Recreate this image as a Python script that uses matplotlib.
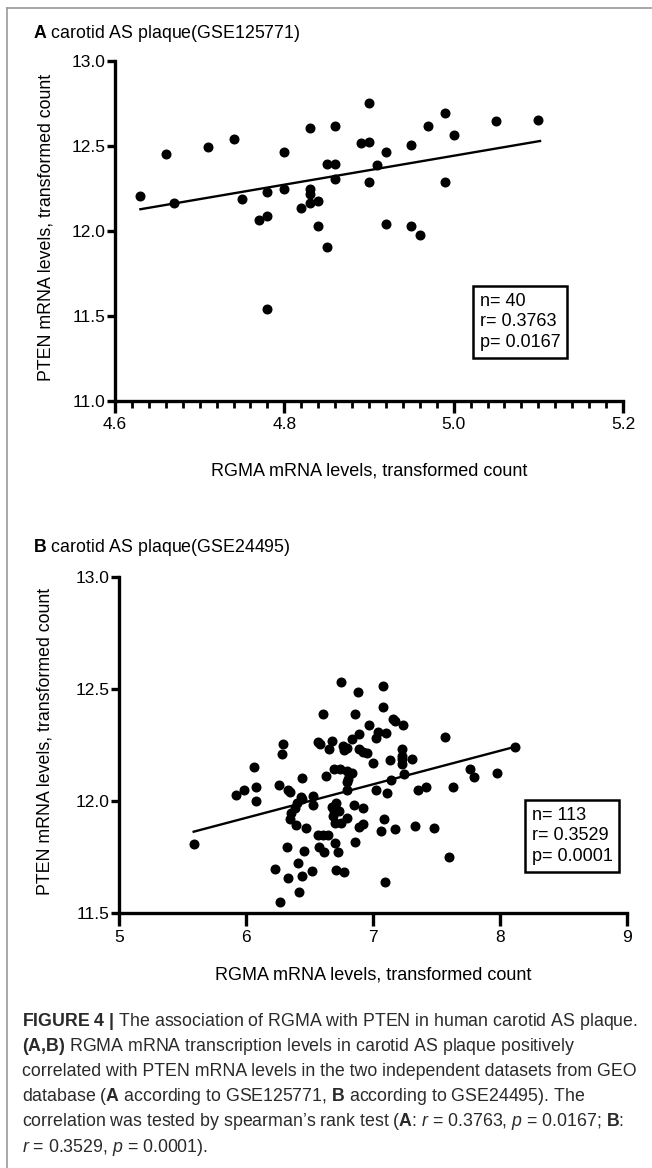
import numpy as np
import matplotlib
matplotlib.use("Agg")
import matplotlib.pyplot as plt
from matplotlib.lines import Line2D

plt.rcParams['font.family'] = ['Liberation Sans', 'DejaVu Sans']
plt.rcParams['mathtext.fontset'] = 'custom'
plt.rcParams['mathtext.rm'] = 'Liberation Sans'
plt.rcParams['mathtext.bf'] = 'Liberation Sans:bold'
plt.rcParams['mathtext.it'] = 'Liberation Sans:italic'

# Panel A data (GSE125771)
rgma_a = [4.630, 4.660, 4.670, 4.710, 4.740, 4.750, 4.770, 4.780, 4.780, 4.800,
          4.800, 4.820, 4.830, 4.830, 4.830, 4.830, 4.840, 4.840, 4.850, 4.860,
          4.860, 4.860, 4.890, 4.900, 4.900, 4.900, 4.910, 4.920, 4.920, 4.950,
          4.950, 4.960, 4.970, 4.990, 4.990, 5.000, 5.050, 5.100, 4.850, 4.780]
pten_a = [12.205, 12.454, 12.166, 12.495, 12.542, 12.186, 12.066, 12.088, 12.227, 12.464,
          12.246, 12.136, 12.605, 12.246, 12.217, 12.166, 12.176, 12.027, 12.395, 12.395,
          12.614, 12.305, 12.515, 12.524, 12.753, 12.286, 12.385, 12.464, 12.039, 12.503,
          12.027, 11.978, 12.614, 12.693, 12.286, 12.563, 12.644, 12.653, 11.907, 11.539]
fit_a_x = [4.630, 5.102]
fit_a_y = [12.127, 12.528]
stats_a = "n= 40\nr= 0.3763\np= 0.0167"

# Panel B data (GSE24495)
rgma_b = [6.747, 6.884, 7.078, 6.605, 6.855, 7.078, 7.154, 7.173, 7.238, 6.970,
          6.887, 7.042, 7.104, 7.023, 6.836, 7.567, 6.288, 6.282, 6.568, 6.582,
          6.679, 6.650, 6.763, 6.794, 6.773, 6.887, 6.923, 6.950, 7.228, 7.002,
          7.136, 7.228, 7.228, 7.304, 7.244, 7.139, 6.059, 6.690, 6.739, 6.792,
          6.836, 6.631, 6.442, 6.797, 6.797, 7.764, 7.795, 7.974, 8.118, 5.922,
          5.980, 6.080, 6.080, 6.256, 6.332, 6.348, 6.429, 6.437, 6.529, 6.529,
          6.387, 6.355, 6.348, 6.392, 6.469, 7.023, 7.107, 7.351, 7.417, 7.630,
          6.849, 6.920, 6.679, 6.702, 6.731, 6.682, 6.797, 6.702, 6.749, 6.887,
          6.923, 7.089, 7.063, 7.171, 7.328, 7.478, 6.568, 6.608, 6.642, 5.586,
          6.319, 6.453, 6.574, 6.615, 6.700, 6.726, 6.855, 7.598, 6.406, 6.227,
          6.521, 6.705, 6.773, 6.327, 6.440, 6.416, 6.266, 7.096, 6.710, 6.690,
          6.800, 6.400, 7.230]
pten_b = [12.533, 12.488, 12.513, 12.388, 12.388, 12.421, 12.365, 12.359, 12.341, 12.341,
          12.299, 12.309, 12.302, 12.283, 12.277, 12.287, 12.253, 12.209, 12.262, 12.253,
          12.268, 12.232, 12.247, 12.238, 12.228, 12.231, 12.219, 12.213, 12.233, 12.171,
          12.183, 12.189, 12.165, 12.189, 12.122, 12.094, 12.153, 12.144, 12.141, 12.133,
          12.124, 12.112, 12.103, 12.083, 12.049, 12.141, 12.108, 12.124, 12.242, 12.025,
          12.049, 12.064, 11.999, 12.073, 12.049, 12.040, 12.019, 12.008, 12.022, 11.981,
          11.970, 11.945, 11.918, 11.894, 11.878, 12.049, 12.034, 12.049, 12.064, 12.064,
          11.982, 11.970, 11.975, 11.970, 11.957, 11.934, 11.923, 11.900, 11.903, 11.885,
          11.897, 11.918, 11.866, 11.876, 11.890, 11.878, 11.847, 11.847, 11.847, 11.808,
          11.793, 11.778, 11.796, 11.771, 11.811, 11.772, 11.816, 11.749, 11.725, 11.696,
          11.689, 11.691, 11.684, 11.656, 11.664, 11.594, 11.550, 11.640, 11.990, 11.955,
          12.100, 11.990, 12.200]
fit_b_x = [5.586, 8.118]
fit_b_y = [11.863, 12.242]
stats_b = "n= 113\nr= 0.3529\np= 0.0001"

xlabel = "RGMA mRNA levels, transformed count"
ylabel = "PTEN mRNA levels, transformed count"

caption = [
    r"$\mathbf{FIGURE\ 4\ |}$ The association of RGMA with PTEN in human carotid AS plaque.",
    r"$\mathbf{(A{,}B)}$ RGMA mRNA transcription levels in carotid AS plaque positively",
    "correlated with PTEN mRNA levels in the two independent datasets from GEO",
    r"database ($\mathbf{A}$ according to GSE125771, $\mathbf{B}$ according to GSE24495). The",
    r"correlation was tested by spearman’s rank test ($\mathbf{A}$: $\mathit{r}$ = 0.3763, $\mathit{p}$ = 0.0167; $\mathbf{B}$:",
    r"$\mathit{r}$ = 0.3529, $\mathit{p}$ = 0.0001).",
]

W, H = 652, 1168
fig = plt.figure(figsize=(W / 100, H / 100), dpi=100)


def px_axes(left, top, right, bottom):
    return fig.add_axes([left / W, 1 - bottom / H, (right - left) / W, (bottom - top) / H])


def style_axes(ax, xlab_y, ylab_x):
    for s in ['top', 'right']:
        ax.spines[s].set_visible(False)
    for s in ['left', 'bottom']:
        ax.spines[s].set_linewidth(2.4)
    ax.tick_params(which='major', direction='out', length=6, width=2.4, labelsize=12.5)
    ax.tick_params(which='minor', direction='out', length=5, width=2.0)
    ax.tick_params(axis='y', pad=1)
    ax.tick_params(axis='x', pad=3)
    ax.set_xlabel(xlabel, fontsize=13)
    ax.set_ylabel(ylabel, fontsize=12.8)
    ax.xaxis.set_label_coords(0.5, xlab_y)
    ax.yaxis.set_label_coords(ylab_x, 0.51)


def stats_box(ax, x, y, txt):
    ax.text(x, y, txt, transform=ax.transAxes, fontsize=13, va='top', ha='left',
            linespacing=1.28,
            bbox=dict(boxstyle='square,pad=0.38', facecolor='white', edgecolor='black', linewidth=1.8))


# Panel A
ax1 = px_axes(115, 60.7, 623, 401)
ax1.plot(rgma_a, pten_a, 'o', color='black', markersize=6.2, clip_on=False)
ax1.plot(fit_a_x, fit_a_y, color='black', linewidth=1.7)
ax1.set_xlim(4.6, 5.2)
ax1.set_ylim(11.0, 13.0)
ax1.set_xticks([4.6, 4.8, 5.0, 5.2])
ax1.set_xticks(np.arange(4.6, 5.2001, 0.02), minor=True)
ax1.set_xticklabels(["4.6", "4.8", "5.0", "5.2"])
ax1.set_yticks([11.0, 11.5, 12.0, 12.5, 13.0])
ax1.set_yticklabels(["11.0", "11.5", "12.0", "12.5", "13.0"])
style_axes(ax1, -0.18, -0.12)
ax1.tick_params(axis='x', which='major', length=8.5)
stats_box(ax1, 0.718, 0.318, stats_a)

# Panel B
ax2 = px_axes(119.3, 577, 627, 913)
ax2.plot(rgma_b, pten_b, 'o', color='black', markersize=6.2, clip_on=False)
ax2.plot(fit_b_x, fit_b_y, color='black', linewidth=1.7)
ax2.set_xlim(5, 9)
ax2.set_ylim(11.5, 13.0)
ax2.set_xticks([5, 6, 7, 8, 9])
ax2.set_yticks([11.5, 12.0, 12.5, 13.0])
ax2.set_yticklabels(["11.5", "12.0", "12.5", "13.0"])
style_axes(ax2, -0.158, -0.13)
ax2.tick_params(axis='x', which='major', length=9)
stats_box(ax2, 0.812, 0.316, stats_b)

# Panel titles
fig.text(33 / W, 1 - 33 / H, r"$\mathbf{A}$ carotid AS plaque(GSE125771)", fontsize=12.8, va='center')
fig.text(33 / W, 1 - 548 / H, r"$\mathbf{B}$ carotid AS plaque(GSE24495)", fontsize=12.8, va='center')

# Caption
y0 = 1021
for i, line in enumerate(caption):
    fig.text(22 / W, 1 - (y0 + i * 25.2) / H, line, fontsize=12.8, va='center', color='#2a2a2a')

# Frame lines of the figure box
fig.add_artist(Line2D([7 / W, 7 / W], [0, 1 - 8 / H], transform=fig.transFigure, color='#9a9a9a', linewidth=1.2))
fig.add_artist(Line2D([7 / W, 1], [1 - 8 / H, 1 - 8 / H], transform=fig.transFigure, color='#9a9a9a', linewidth=1.2))

fig.savefig("out.png", dpi=100)
